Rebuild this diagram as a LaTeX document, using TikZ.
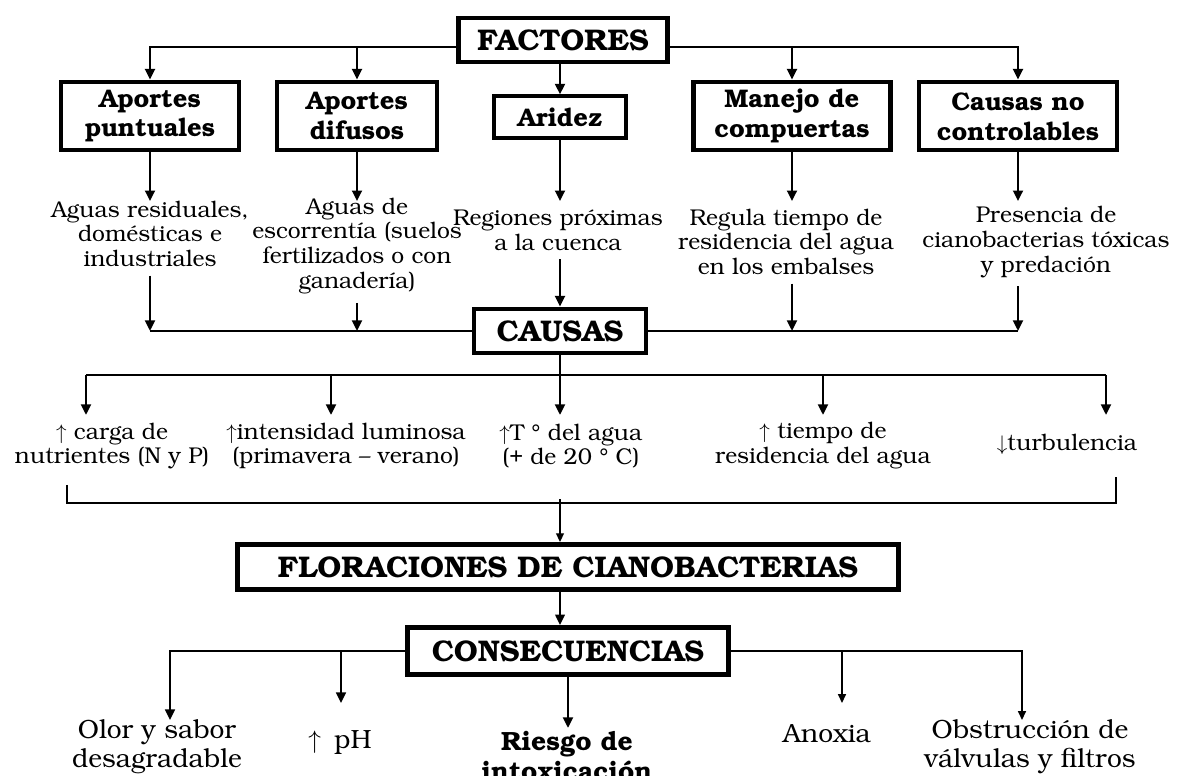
\documentclass[tikz,border=0pt]{standalone}
\usepackage[T1]{fontenc}
\usepackage{bookman}
\usetikzlibrary{arrows.meta}

\tikzset{
  titulo/.style={draw, line width=2.8pt, inner sep=0pt, align=center,
    font=\fontsize{17}{20}\selectfont\bfseries},
  caja/.style={draw, line width=2.8pt, inner sep=0pt, align=center,
    minimum height=1.36cm, font=\fontsize{14.5}{17}\selectfont\bfseries},
  texto/.style={inner sep=0pt, align=center, font=\fontsize{13}{14}\selectfont},
  textogr/.style={inner sep=0pt, align=center, font=\fontsize{15}{16.5}\selectfont},
  linea/.style={line width=1.6pt},
  fina/.style={line width=0.8pt},
  flecha/.style={linea, -{Triangle[length=6pt,width=5.5pt]}},
  flechafina/.style={fina, -{Triangle[length=5pt,width=4.5pt]}}
}

\begin{document}
\begin{tikzpicture}[x=0.02cm,y=-0.02cm]
\useasboundingbox (0,0) rectangle (1181,776);

% factores
\node[titulo, line width=2.4pt, minimum width=4.18cm, minimum height=0.88cm] (factores) at (563,40) {FACTORES};
\node[caja, minimum width=3.56cm] (apu) at (150,116) {Aportes\\puntuales};
\node[caja, minimum width=3.2cm] (apd) at (357,116) {Aportes\\difusos};
\node[caja, line width=1.8pt, minimum width=2.64cm, minimum height=0.84cm] (aridez) at (560,117) {Aridez};
\node[caja, minimum width=3.94cm] (manejo) at (792,116) {Manejo de\\compuertas};
\node[caja, minimum width=3.96cm] (cnc) at (1018,116) {Causas no\\controlables};

\coordinate (lf) at ([yshift=-4pt]factores.west);
\coordinate (rf) at ([yshift=-4pt]factores.east);
\draw[flecha] (lf) -| (apu.north);
\draw[flecha] (apd.north |- lf) -- (apd.north);
\draw[flecha] (aridez.north |- factores.south) -- (aridez.north);
\draw[flecha] (rf) -| (cnc.north);
\draw[flecha] (manejo.north |- rf) -- (manejo.north);

% descripciones
\node[texto] (t1) at (150,234) {Aguas residuales,\\dom\'esticas e\\industriales};
\node[texto] (t2) at (357,246) {Aguas de\\escorrent\'{\i}a (suelos\\fertilizados o con\\ganader\'{\i}a)};
\node[texto] (t3) at (558,230) {Regiones pr\'oximas\\a la cuenca};
\node[texto] (t4) at (786,242) {Regula tiempo de\\residencia del agua\\en los embalses};
\node[texto] (t5) at (1046,242) {Presencia de\\cianobacterias t\'oxicas\\y predaci\'on};

\draw[flecha] (apu.south) -- (apu.south |- t1.north);
\draw[flecha] (apd.south) -- (apd.south |- t1.north);
\draw[flecha] (aridez.south) -- (aridez.south |- t1.north);
\draw[flecha] (manejo.south) -- (manejo.south |- t1.north);
\draw[flecha] (cnc.south) -- (cnc.south |- t1.north);

% causas
\node[titulo, minimum width=3.44cm, minimum height=0.88cm] (causas) at (560,331) {CAUSAS};
\draw[linea] (apu.south |- causas.west) -- (causas.west);
\draw[linea] (causas.east) -- (cnc.south |- causas.east);
\draw[flecha] ([yshift=-5pt]t1.south) -- (t1.south |- causas.west);
\draw[flecha] ([yshift=-5pt]t2.south) -- (t2.south |- causas.west);
\draw[flecha] ([yshift=-5pt]causas.north |- t3.south) -- (causas.north);
\draw[flecha] ([yshift=-5pt]manejo.south |- t4.south) -- (manejo.south |- causas.east);
\draw[flecha] ([yshift=-5pt]cnc.south |- t5.south) -- (cnc.south |- causas.east);

% condiciones
\coordinate (lb) at (560,375);
\coordinate (a1) at (86,415);
\coordinate (a2) at (331,415);
\coordinate (a3) at (560,415);
\coordinate (a4) at (823,415);
\coordinate (a5) at (1106,415);
\draw[linea] (causas.south) -- (lb);
\draw[linea] (a1 |- lb) -- (a5 |- lb);
\foreach \a in {a1,a2,a3,a4,a5}
  \draw[flecha] (\a |- lb) -- (\a);

\node[texto] (c1) at (112,446) {$\uparrow$ carga de\\nutrientes (N y P)};
\node[texto] (c2) at (346,446) {$\uparrow$intensidad luminosa\\(primavera -- verano)};
\node[texto] (c3) at (571,446) {$\uparrow$T \textdegree{} del agua\\(+ de 20 \textdegree{} C)};
\node[texto] (c4) at (823,446) {$\uparrow$ tiempo de\\residencia del agua};
\node[texto] (c5) at (1067,445) {$\downarrow$turbulencia};

% floraciones
\coordinate (b1) at (67,485);
\coordinate (b2) at (1116,477);
\coordinate (bb) at (560,503);
\draw[fina] (b1) |- (bb) -| (b2);
\node[titulo, minimum width=13.24cm, minimum height=0.9cm] (flor) at (568,567) {FLORACIONES DE CIANOBACTERIAS};
\draw[flechafina] ([yshift=2pt]bb) -- (bb |- flor.north);

% consecuencias
\node[titulo, minimum width=6.42cm, minimum height=0.94cm] (consec) at (568,651) {CONSECUENCIAS};
\draw[flecha, line width=1.1pt] (bb |- flor.south) -- (bb |- consec.north);

\coordinate (r1) at (170,720);
\coordinate (r2) at (341,703);
\coordinate (r3) at (568,728);
\coordinate (r4) at (842,703);
\coordinate (r5) at (1022,720);
\draw[flecha, line width=1.2pt] (consec.west) -| (r1);
\draw[flecha, line width=1.2pt] (consec.west -| r2) -- (r2);
\draw[flecha] (consec.south) -- (r3);
\draw[flechafina] (consec.east) -| (r5);
\draw[flechafina] (consec.east -| r4) -- (r4);

\node[textogr] (o1) at (157,747) {Olor y sabor\\desagradable};
\node[textogr] (o2) at (340,742) {$\uparrow$\enspace pH};
\node[textogr, font=\fontsize{15}{17}\selectfont\bfseries] (o3) at (567,756) {Riesgo de\\intoxicaci\'on};
\node[textogr] (o4) at (827,733) {Anoxia};
\node[textogr] (o5) at (1030,747) {Obstrucci\'on de\\v\'alvulas y filtros};
\end{tikzpicture}
\end{document}
